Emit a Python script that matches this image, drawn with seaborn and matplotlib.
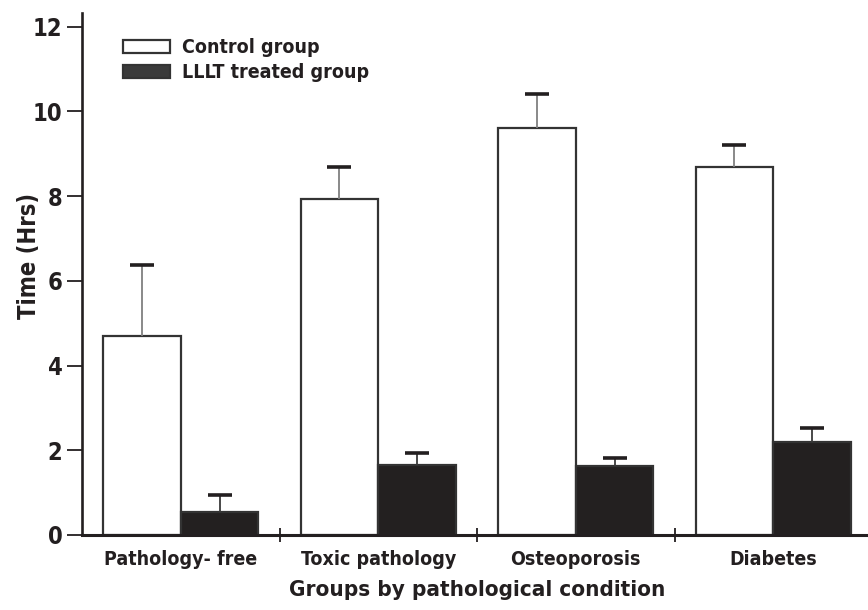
import matplotlib
matplotlib.use("Agg")
import matplotlib.pyplot as plt
from matplotlib import font_manager as fm
from matplotlib.patches import Patch
import seaborn as sns
import pandas as pd

# ---- data ----
categories = ["Pathology- free", "Toxic pathology", "Osteoporosis", "Diabetes"]
series_names = ["Control group", "LLLT treated group"]
control_mean = [4.70, 7.93, 9.61, 8.68]
control_err = [1.68, 0.76, 0.80, 0.53]
lllt_mean = [0.55, 1.66, 1.62, 2.20]
lllt_err = [0.40, 0.28, 0.19, 0.32]
y_ticks = [0, 2, 4, 6, 8, 10, 12]

sns.set_theme(style="white")
names = {f.name for f in fm.fontManager.ttflist}
if "Liberation Sans Narrow" in names:
    fam = ["Liberation Sans Narrow", "DejaVu Sans"]
    stretch = "normal"
    scale = 1.2
else:
    fam = ["DejaVu Sans"]
    stretch = "condensed"
    scale = 1.0
plt.rcParams["font.family"] = fam
plt.rcParams["font.weight"] = "bold"
plt.rcParams["font.stretch"] = stretch

dark = "#231f20"

df = pd.DataFrame({
    "group": categories * 2,
    "time": control_mean + lllt_mean,
    "treatment": [series_names[0]] * 4 + [series_names[1]] * 4,
})

fig = plt.figure(figsize=(8.68, 6.10), dpi=100)
ax = fig.add_axes([82 / 868, 1 - 535 / 610, 790 / 868, (535 - 12.7) / 610])

sns.barplot(data=df, x="group", y="time", hue="treatment",
            order=categories, hue_order=series_names,
            palette={series_names[0]: "white", series_names[1]: dark},
            edgecolor="#333333", linewidth=1.6, width=0.785,
            errorbar=None, legend=False, ax=ax, zorder=2)

errs = [control_err, lllt_err]
line_cols = ["#808080", "#3a3a3a"]
for cont, err, lc in zip(ax.containers, errs, line_cols):
    for bar, e in zip(cont, err):
        xc = bar.get_x() + bar.get_width() / 2
        h = bar.get_height()
        _, caps, bars = ax.errorbar(xc, h, yerr=[[0], [e]], fmt="none",
                                    ecolor=lc, elinewidth=1.3, capsize=8.5,
                                    capthick=2.6, zorder=3)
        for c in caps:
            c.set_color(dark)
            c.set_markeredgecolor(dark)
            c.set_markerfacecolor(dark)
        if len(caps) == 2:
            caps[0].set_visible(False)

fs_tick = 17 * scale
fs_cat = 14 * scale
fs_title = 16.1 * scale
fs_ylab = 17 * scale
fs_leg = 14 * scale

ax.set_xlim(-0.5, 3.5)
ax.set_ylim(0, 12.33)
ax.set_yticks(y_ticks)
ax.set_yticklabels([str(t) for t in y_ticks], fontsize=fs_tick, fontweight="bold")
ax.set_xticks(range(len(categories)))
ax.set_xticklabels(categories, fontsize=fs_cat, fontweight="bold")
ax.set_xticks([0.5, 1.5, 2.5], minor=True)
ax.tick_params(axis="x", which="major", length=0, pad=11, colors=dark)
ax.tick_params(axis="x", which="minor", direction="inout", length=10,
               width=1.3, color=dark, bottom=True)
ax.tick_params(axis="y", which="major", direction="out", length=11,
               width=1.3, color=dark, labelcolor=dark, pad=3, left=True)

for s in ["top", "right"]:
    ax.spines[s].set_visible(False)
ax.spines["left"].set_color(dark)
ax.spines["left"].set_linewidth(1.9)
ax.spines["bottom"].set_color(dark)
ax.spines["bottom"].set_linewidth(2.2)

ax.set_xlabel("Groups by pathological condition", fontsize=fs_title,
              fontweight="bold", color=dark, labelpad=8)
ax.set_ylabel("Time (Hrs)", fontsize=fs_ylab, fontweight="bold", color=dark)
ax.yaxis.set_label_coords(-0.052, 0.534)

handles = [Patch(facecolor="white", edgecolor="#333333", linewidth=1.6),
           Patch(facecolor="#3a3a3a", edgecolor="#333333", linewidth=1.6)]
leg = ax.legend(handles, series_names, loc="upper left",
                bbox_to_anchor=(0.0415, 0.966), frameon=False,
                fontsize=fs_leg, handlelength=2.45, handleheight=0.68,
                handletextpad=0.62, labelspacing=0.3, borderaxespad=0)
for t in leg.get_texts():
    t.set_fontweight("bold")
    t.set_color(dark)

fig.savefig("out.png", dpi=100)
